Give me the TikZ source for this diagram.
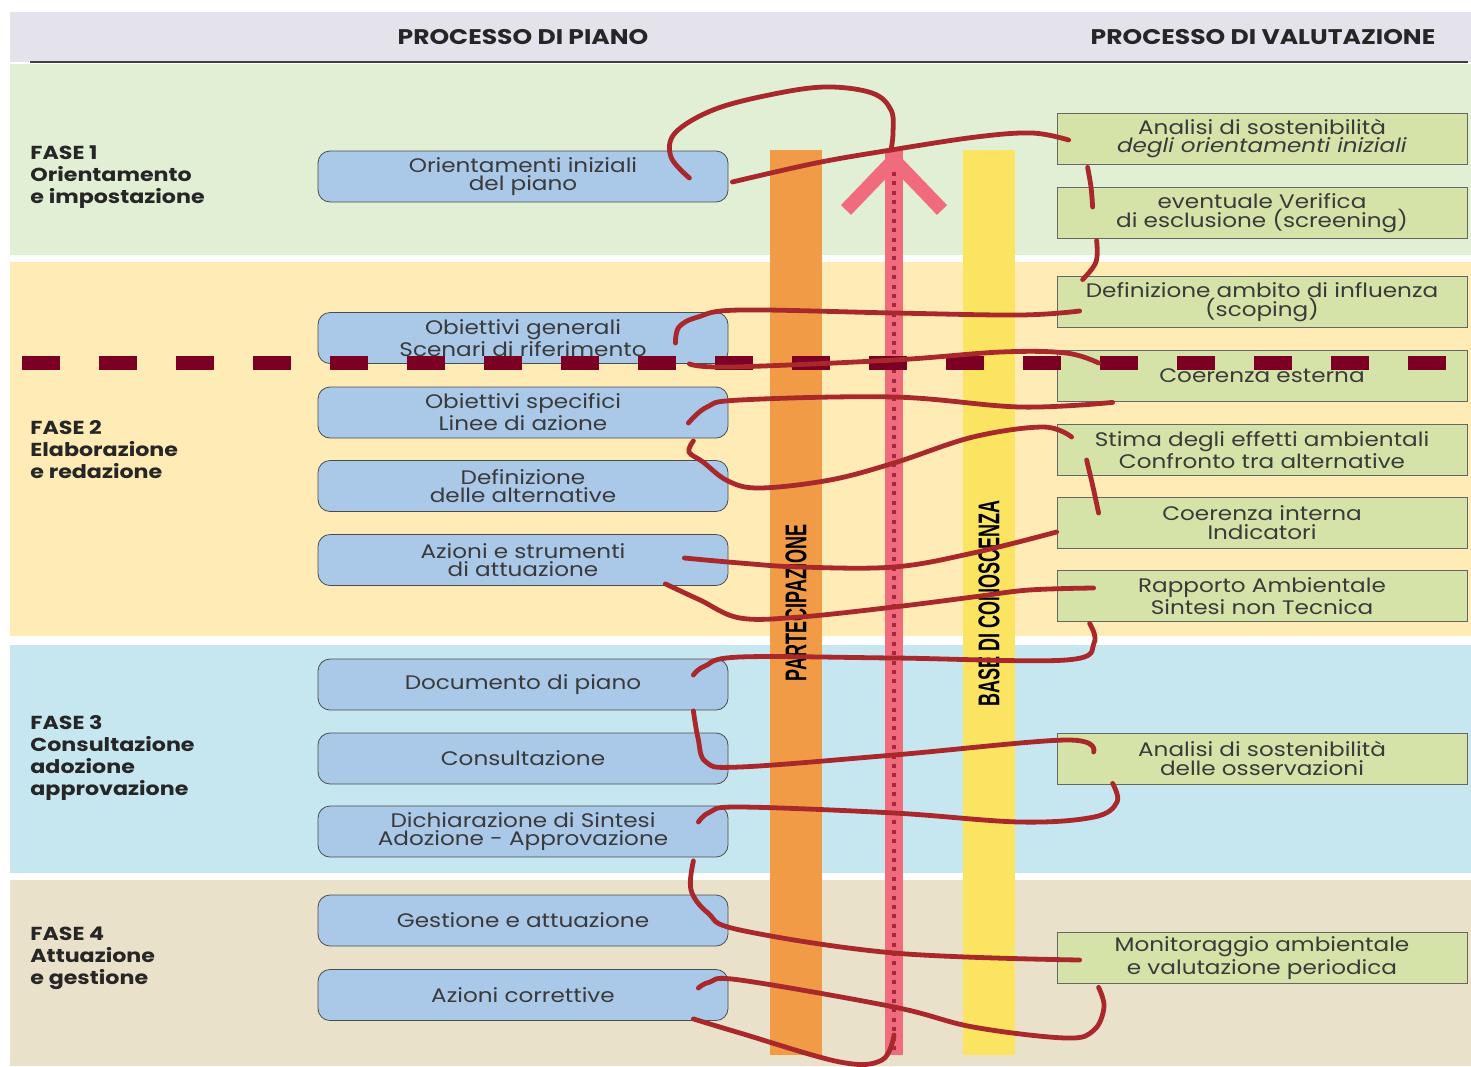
\documentclass[tikz,border=0pt]{standalone}
\usepackage{fontspec}
\setmainfont{Poppins}[FakeStretch=1.18]
\newfontfamily\narrowfont[FakeStretch=0.6]{Liberation Sans}
\definecolor{headgrey}{HTML}{E4E3EC}
\definecolor{faseone}{HTML}{E1EFD5}
\definecolor{fasetwo}{HTML}{FEEBB5}
\definecolor{fasethree}{HTML}{C6E7EF}
\definecolor{fasefour}{HTML}{EAE1CB}
\definecolor{planblue}{HTML}{AAC8E8}
\definecolor{valgreen}{HTML}{D5E3A8}
\definecolor{barorange}{HTML}{F19B47}
\definecolor{baryellow}{HTML}{FBE462}
\definecolor{barpink}{HTML}{F06C7D}
\definecolor{dotred}{HTML}{A62840}
\definecolor{dashred}{HTML}{7B0024}
\definecolor{snakered}{HTML}{A8282C}
\definecolor{textgrey}{HTML}{3A3A3A}
\begin{document}
\begin{tikzpicture}[x=0.5pt,y=-0.5pt,
  head/.style={font=\bfseries\fontsize{10.6}{11}\selectfont, text=black!85},
  fase/.style={anchor=west, inner sep=0pt, align=left, font=\bfseries\fontsize{9.4}{11}\selectfont, text=black!85},
  planbox/.style={draw=black!70, fill=planblue, rounded corners=6pt, minimum width=205pt,
    minimum height=25.5pt, inner sep=0pt, align=center, text=textgrey, font=\fontsize{9.8}{9.3}\selectfont},
  valbox/.style={draw=black!60, fill=valgreen, minimum width=205pt,
    minimum height=25.5pt, inner sep=0pt, align=center, text=textgrey, font=\fontsize{9.8}{9.3}\selectfont},
  barlabel/.style={rotate=90, font=\narrowfont\bfseries\fontsize{15}{15}\selectfont, text=black},
  redline/.style={draw=snakered, line width=2.4pt, line cap=round}]
\useasboundingbox (0,0) rectangle (1471,1066);
\fill[headgrey] (10,12) rectangle (1471,62);
\draw[line width=1pt, black!75] (30,62) -- (1468,62);
\fill[faseone] (10,64) rectangle (1471,255);
\fill[fasetwo] (10,262) rectangle (1471,636);
\fill[fasethree] (10,645) rectangle (1471,873);
\fill[fasefour] (10,880) rectangle (1471,1066);
\node[head] (hpiano) at (523,37) {PROCESSO DI PIANO};
\node[head] (hvalut) at (1263,37) {PROCESSO DI VALUTAZIONE};
\node[fase] (fase1) at (30,177) {FASE 1\\Orientamento\\e impostazione};
\node[fase] (fase2) at (30,450) {FASE 2\\Elaborazione\\e redazione};
\node[fase] (fase3) at (30,758) {FASE 3\\Consultazione\\adozione\\approvazione};
\node[fase] (fase4) at (30,958) {FASE 4\\Attuazione\\e gestione};
\fill[barorange] (770,150) rectangle (822,1055);
\fill[baryellow] (963,150) rectangle (1015,1055);
\fill[barpink] (885,150) rectangle (903,1055);
\draw[dotred, line width=2pt, dash pattern=on 2pt off 2.7pt] (894,153) -- (894,1052);
\draw[barpink, line width=7pt] (846,210) -- (894,160) -- (942,210);
\coordinate (tip) at (891,150);
\coordinate (foot) at (894,1035);
\node[barlabel] (partec) at (796,603) {PARTECIPAZIONE};
\node[barlabel] (conosc) at (989,603) {BASE DI CONOSCENZA};
\node[planbox] (orient) at (523,176.5) {Orientamenti iniziali\\del piano};
\node[planbox] (obgen) at (523,338) {Obiettivi generali\\Scenari di riferimento};
\node[planbox] (obspec) at (523,412.5) {Obiettivi specifici\\Linee di azione};
\node[planbox] (defalt) at (523,486) {Definizione\\delle alternative};
\node[planbox] (azioni) at (523,560) {Azioni e strumenti\\di attuazione};
\node[planbox] (docpiano) at (523,684.5) {Documento di piano};
\node[planbox] (consult) at (523,758.5) {Consultazione};
\node[planbox] (dichiar) at (523,831.5) {Dichiarazione di Sintesi\\Adozione - Approvazione};
\node[planbox] (gestione) at (523,920.5) {Gestione e attuazione};
\node[planbox] (correttive) at (523,995) {Azioni correttive};
\node[valbox] (anorient) at (1262,138.5) {Analisi di sostenibilità\\\textit{degli orientamenti iniziali}};
\node[valbox] (verifica) at (1262,213) {eventuale Verifica\\di esclusione (screening)};
\node[valbox] (scoping) at (1262,302) {Definizione ambito di influenza\\(scoping)};
\node[valbox] (cesterna) at (1262,376) {Coerenza esterna};
\node[valbox] (stima) at (1262,450) {Stima degli effetti ambientali\\Confronto tra alternative};
\node[valbox] (cinterna) at (1262,522.5) {Coerenza interna\\Indicatori};
\node[valbox] (rapporto) at (1262,596) {Rapporto Ambientale\\Sintesi non Tecnica};
\node[valbox] (anoss) at (1262,758.5) {Analisi di sostenibilità\\delle osservazioni};
\node[valbox] (monitor) at (1262,958) {Monitoraggio ambientale\\e valutazione periodica};
\draw[dashred, line width=7pt, dash pattern=on 19pt off 19.5pt] (22,363) -- (1446,363);
\draw[redline] plot[smooth, tension=0.6] coordinates {(tip) (893,133) (891,110) (872,93) (825,87) (769,95) (713,110) (675,133) (671,157) ([shift={(-39,1.5)}]orient.east)};
\draw[redline] plot[smooth, tension=0.6] coordinates {([shift={(4,5.5)}]orient.east) (816,163) (891,150) (976,137) (1032,133) ([shift={(12,1.5)}]anorient.west)};
\draw[redline] plot[smooth, tension=0.6] coordinates {([shift={(31,3)}]anorient.south west) (1091,187) ([shift={(36,-6)}]verifica.west)};
\draw[redline] plot[smooth, tension=0.6] coordinates {([shift={(40,1.5)}]verifica.south west) (1096,262) ([shift={(26,3.5)}]scoping.north west)};
\draw[redline] plot[smooth, tension=0.6] coordinates {([shift={(23,9)}]scoping.west) (1020,315) (894,313) (740,310) (698,317) (679,327) ([shift={(-53,5)}]obgen.east)};
\draw[redline] plot[smooth, tension=0.6] coordinates {([shift={(-39,0)}]obgen.south east) (730,367) (894,360) (1001,352) (1066,353) ([shift={(42,-13)}]cesterna.west)};
\draw[redline] plot[smooth, tension=0.6] coordinates {([shift={(56,0.5)}]cesterna.south west) (1020,407) (894,397) (740,400) (707,407) ([shift={(-40,10.5)}]obspec.east)};
\draw[redline] plot[smooth, tension=0.6] coordinates {([shift={(-35,2.5)}]obspec.south east) (689,452) (703,462) (728,481) (760,488) (830,480) (894,463) (973,437) (1043,427) ([shift={(15,-13)}]stima.west)};
\draw[redline] plot[smooth, tension=0.6] coordinates {([shift={(30,10)}]stima.west) (1093,487) ([shift={(42,-9.5)}]cinterna.west)};
\draw[redline] plot[smooth, tension=0.6] coordinates {([shift={(0,9.5)}]cinterna.west) (973,553) (894,567) (800,567) (740,563) ([shift={(-44,-2)}]azioni.east)};
\draw[redline] plot[smooth, tension=0.6] coordinates {([shift={(-63,-2)}]azioni.south east) (700,600) (740,618) (800,617) (894,607) (973,597) (1029,590) ([shift={(37,-8)}]rapporto.west)};
\draw[redline] plot[smooth, tension=0.6] coordinates {([shift={(33,1.5)}]rapporto.south west) (1094,643) (1066,660) (894,658) (740,657) (705,666) ([shift={(-35,-9.5)}]docpiano.east)};
\draw[redline] plot[smooth, tension=0.6] coordinates {([shift={(-35,0.5)}]docpiano.south east) (698,738) (706,762) (740,767) (894,755) (1066,740) ([shift={(37,-6.5)}]anoss.west)};
\draw[redline] plot[smooth, tension=0.6] coordinates {([shift={(56,-1)}]anoss.south west) (1117,802) (1094,817) (1020,822) (894,813) (740,807) (710,812) ([shift={(-30,-9.5)}]dichiar.east)};
\draw[redline] plot[smooth, tension=0.6] coordinates {([shift={(-35,3.5)}]dichiar.south east) (691,890) (708,913) (740,930) (894,953) ([shift={(23,2)}]monitor.west)};
\draw[redline] plot[smooth, tension=0.6] coordinates {([shift={(42,3.5)}]monitor.south west) (1104,1007) (1094,1030) (1066,1038) (973,1027) (894,1007) (740,980) (710,982) ([shift={(-30,-7)}]correttive.east)};
\draw[redline] plot[smooth, tension=0.6] coordinates {([shift={(-35,-2)}]correttive.south east) (740,1033) (840,1062) (882,1060) (foot)};
\end{tikzpicture}
\end{document}
